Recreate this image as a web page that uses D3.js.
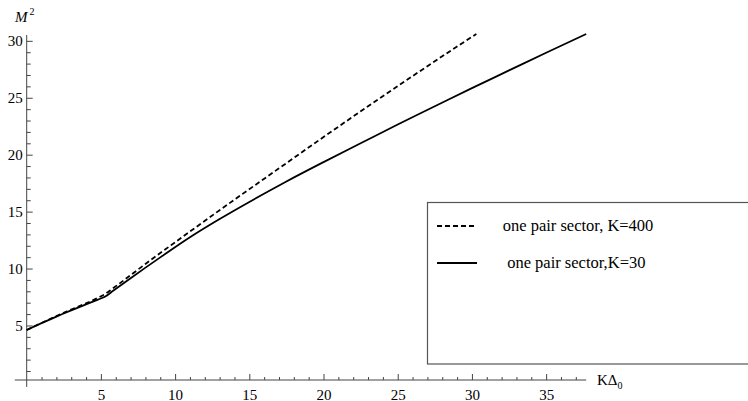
<!DOCTYPE html>
<html>
<head>
<meta charset="utf-8">
<script src="https://cdn.jsdelivr.net/npm/d3@7"></script>
<style>
  body { margin: 0; background: #fff; }
  svg text { font-family: "Liberation Serif", "Times New Roman", serif; fill: #000; }
  .axis line { stroke: #444; }
  .curve { fill: none; stroke: #000; stroke-width: 1.8; }
</style>
</head>
<body>
<svg id="chart" width="748" height="401"></svg>
<script>

////////////////////////// DATA //////////////////////////

// K*Delta_0 values and M^2
const xPair400 = [0, 1, 2, 3, 4, 4.8, 5.3, 5.8, 8, 11, 14, 17, 20, 23, 26, 29, 30.3]
const yPair400 = [4.6, 5.22, 5.82, 6.4, 6.95, 7.43, 7.78, 8.25, 10.4, 13.25, 16.05, 18.8, 21.55, 24.25, 26.9, 29.5, 30.6]

const xPair30 = [0, 1, 2, 3, 4, 4.8, 5.3, 5.8, 7, 9, 11, 13, 15, 17.5, 20, 22.5, 25, 27.5, 30, 32.5, 35, 37.7]
const yPair30 = [4.6, 5.2, 5.78, 6.32, 6.85, 7.27, 7.55, 8.02, 9.15, 10.98, 12.75, 14.35, 15.85, 17.65, 19.35, 21.0, 22.65, 24.25, 25.85, 27.4, 28.95, 30.6]

const xTickLabels = [5, 10, 15, 20, 25, 30, 35]
const yTickLabels = [5, 10, 15, 20, 25, 30]

const legendLabels = ['one pair sector, K=400', ' one pair sector,K=30']

////////////////////////// SETUP //////////////////////////

const svg = d3.select('#chart')
const serif = '"Liberation Serif", "Times New Roman", serif'

const xScale = d3.scaleLinear().domain([0, 37.7]).range([26.7, 586.2])
const yScale = d3.scaleLinear().domain([0.21, 30.6]).range([380, 34])

const xMinor = d3.range(1, 38).filter(v => v % 5 !== 0)
const yMinor = d3.range(1, 31).filter(v => v % 5 !== 0)

const line = d3.line()
  .x(d => xScale(d[0]))
  .y(d => yScale(d[1]))
  .curve(d3.curveMonotoneX)

////////////////////////// AXES //////////////////////////

// x axis (ticks point up, like Mathematica)
const xAxisG = svg.append('g')
  .attr('class', 'axis')
  .attr('transform', `translate(0,${yScale(0.21)})`)

xAxisG.append('g')
  .call(d3.axisBottom(xScale).tickValues(xMinor).tickSize(-3).tickSizeOuter(0).tickFormat(''))
  .call(g => g.select('.domain').remove())

xAxisG.append('g')
  .call(d3.axisBottom(xScale).tickValues(xTickLabels).tickSize(-6).tickSizeOuter(0).tickPadding(6))
  .call(g => g.select('.domain').remove())
  .call(g => g.attr('font-family', serif).attr('font-size', 15))
  .selectAll('text')
    .attr('dy', '0.9em')

xAxisG.append('line')
  .attr('x1', xScale(-0.8))
  .attr('x2', xScale(37.7))
  .attr('stroke', '#444')

// y axis (ticks point right)
const yAxisG = svg.append('g')
  .attr('class', 'axis')
  .attr('transform', `translate(${xScale(0)},0)`)

yAxisG.append('g')
  .call(d3.axisLeft(yScale).tickValues(yMinor).tickSize(-4).tickSizeOuter(0).tickFormat(''))
  .call(g => g.select('.domain').remove())

yAxisG.append('g')
  .call(d3.axisLeft(yScale).tickValues(yTickLabels).tickSize(-6).tickSizeOuter(0).tickPadding(4))
  .call(g => g.select('.domain').remove())
  .call(g => g.attr('font-family', serif).attr('font-size', 15))
  .selectAll('text')
    .attr('text-anchor', 'end')
    .attr('x', -4)

yAxisG.append('line')
  .attr('y1', yScale(30.6) + 1)
  .attr('y2', yScale(-0.4))
  .attr('stroke', '#444')

// axis labels
svg.append('text')
  .attr('x', 15)
  .attr('y', 22)
  .attr('font-family', serif)
  .style('font-size', '15px')
  .style('font-style', 'italic')
  .text('M')
  .append('tspan')
    .attr('dx', 2)
    .attr('dy', -7)
    .style('font-size', '10px')
    .style('font-style', 'normal')
    .text('2')

svg.append('text')
  .attr('x', 597)
  .attr('y', 385)
  .attr('font-family', serif)
  .style('font-size', '15px')
  .text('KΔ')
  .append('tspan')
    .attr('dy', 4)
    .style('font-size', '10px')
    .text('0')

////////////////////////// CURVES //////////////////////////

svg.append('path')
  .datum(d3.zip(xPair400, yPair400))
  .attr('class', 'curve')
  .attr('stroke-dasharray', '5,3')
  .attr('d', line)

svg.append('path')
  .datum(d3.zip(xPair30, yPair30))
  .attr('class', 'curve')
  .attr('d', line)

////////////////////////// LEGEND //////////////////////////

const legend = svg.append('g')

legend.append('rect')
  .attr('x', 427.5)
  .attr('y', 202.5)
  .attr('width', 340)
  .attr('height', 161.5)
  .attr('fill', '#fff')
  .attr('stroke', '#555')
  .attr('stroke-width', 1.2)

const legendRows = [
  { label: legendLabels[0], dash: '5,3', y: 226, tx: 502.7 },
  { label: legendLabels[1], dash: null, y: 263, tx: 503 }
]

legend.selectAll('.legend-line')
  .data(legendRows)
  .enter()
  .append('line')
  .attr('class', 'curve')
  .attr('x1', 437)
  .attr('x2', 477)
  .attr('y1', d => d.y)
  .attr('y2', d => d.y)
  .attr('stroke-dasharray', d => d.dash)

legend.selectAll('.legend-text')
  .data(legendRows)
  .enter()
  .append('text')
  .attr('x', d => d.tx)
  .attr('y', d => d.y + 5)
  .attr('font-family', serif)
  .style('font-size', '16.5px')
  .style('white-space', 'pre')
  .text(d => d.label)

</script>
</body>
</html>
